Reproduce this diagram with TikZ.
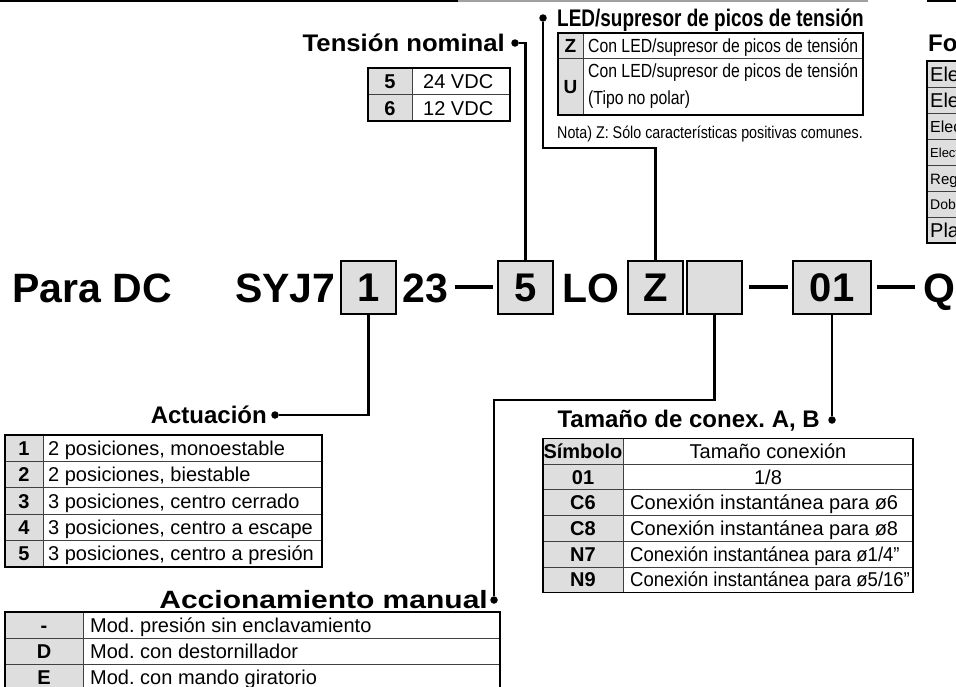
\documentclass[tikz,border=0pt]{standalone}
\usepackage{fontspec}
\setmainfont{Liberation Sans}
\usepackage{graphicx}
\definecolor{cellgray}{HTML}{DEDEDE}
\definecolor{rulegray}{HTML}{A0A0A0}
\newcommand\fs[1]{\fontsize{#1}{#1}\selectfont}
\newcommand\hsc[2]{\scalebox{#1}[1]{#2}}
\frenchspacing
\begin{document}
\begin{tikzpicture}[x=1pt,y=-1pt,
  bigtxt/.style={font=\fs{41}\bfseries, inner sep=0},
  codebox/.style={draw=black, line width=1.7, fill=cellgray, minimum height=53, inner sep=0, font=\fs{40}\bfseries},
  head/.style={font=\fs{24}\bfseries, inner sep=0},
  celltxt/.style={font=\fs{20}, inner sep=0},
  cellbold/.style={font=\fs{20}\bfseries, inner sep=0},
  dot/.style={circle, fill=black, inner sep=0, minimum size=7.5},
  conn/.style={line width=2.3},
  dashbar/.style={line width=3.8},
  outer/.style={draw=black, line width=1.5},
  inner/.style={draw=black!75, line width=0.9},
]
\useasboundingbox (0,0) rectangle (956,686);
\clip (0,0) rectangle (956,686);

% top rule
\draw[line width=1.6] (0,0.8) -- (458,0.8);
\draw[rulegray, line width=1.6] (458,0.8) -- (868,0.8);
\draw[line width=1.6] (927,0.8) -- (956,0.8);

% model code line
\node[bigtxt, anchor=base west] (para) at (12,302) {Para DC};
\node[bigtxt, anchor=base west] (syj) at (235,302) {SYJ7};
\node[codebox, minimum width=55] (b1) at (368.5,287.5) {1};
\node[bigtxt, anchor=base west] (n23) at (402,302) {23};
\draw[dashbar] (455,287) -- (493,287);
\node[codebox, minimum width=55] (b5) at (525.5,287.5) {5};
\node[bigtxt, anchor=base west] (lo) at (562,302) {LO};
\node[codebox, minimum width=55] (bZ) at (655.5,287.5) {Z};
\node[codebox, minimum width=55] (bE) at (714.5,287.5) {};
\draw[dashbar] (749,287) -- (788,287);
\node[codebox, minimum width=78] (b01) at (832,287.5) {01};
\draw[dashbar] (877,287) -- (915,287);
\node[bigtxt, anchor=base west] (q) at (923,302) {Q};

% ---- Tension nominal
\node[dot] (tnDot) at (515,43) {};
\node[head, anchor=base east] (tnHead) at (505,51) {\hsc{1.07}{Tensión nominal}};
\draw[conn] (tnDot) -| (b5.north);
\fill[cellgray] (368,68) rectangle (412,121);
\draw[inner] (412,68) -- (412,121);
\draw[inner] (368,94.5) -- (510,94.5);
\draw[outer] (368,68) rectangle (510,121);
\node[cellbold, anchor=base] (tnA) at (390,88.5) {5};
\node[celltxt, anchor=base west] (tnAt) at (423,88.5) {24 VDC};
\node[cellbold, anchor=base] (tnB) at (390,115) {6};
\node[celltxt, anchor=base west] (tnBt) at (423,115) {12 VDC};

% ---- LED
\node[dot] (ledDot) at (543,18) {};
\node[head, anchor=base west] (ledHead) at (557,26) {\hsc{0.79}{LED/supresor de picos de tensión}};
\coordinate (ledBend) at (655.5,148);
\draw[conn] (ledDot) |- (ledBend) -- (bZ.north);
\fill[cellgray] (558,33) rectangle (583,115);
\draw[inner] (583,33) -- (583,115);
\draw[inner] (558,58) -- (863,58);
\draw[outer] (558,33) rectangle (863,115);
\node[font=\fs{19}\bfseries, inner sep=0, anchor=base] (ledZ) at (570.5,52.5) {Z};
\node[font=\fs{19}, inner sep=0, anchor=base west] (ledZt) at (588,52.5) {\hsc{0.83}{Con LED/supresor de picos de tensión}};
\node[font=\fs{19}\bfseries, inner sep=0, anchor=base] (ledU) at (570.5,93.5) {U};
\node[font=\fs{19}, inner sep=0, anchor=base west] (ledUt) at (588,77) {\hsc{0.83}{Con LED/supresor de picos de tensión}};
\node[font=\fs{19}, inner sep=0, anchor=base west] (ledUt2) at (588,104) {\hsc{0.83}{(Tipo no polar)}};
\node[font=\fs{17}, inner sep=0, anchor=base west] (nota) at (557,138) {\hsc{0.84}{Nota) Z: Sólo características positivas comunes.}};

% ---- Actuacion
\node[dot] (actDot) at (275,415) {};
\node[head, anchor=base east] (actHead) at (267,423) {Actuación};
\draw[conn] (actDot) -| (b1.south);
\fill[cellgray] (5,435) rectangle (43,567);
\draw[inner] (43,435) -- (43,567);
\foreach \yy in {461.4,487.8,514.2,540.6} \draw[inner] (5,\yy) -- (322,\yy);
\draw[outer] (5,435) rectangle (322,567);
\node[cellbold, anchor=base] (a1) at (24,455.2) {1};
\node[celltxt, anchor=base west] (a1t) at (48,455.2) {2 posiciones, monoestable};
\node[cellbold, anchor=base] (a2) at (24,481.6) {2};
\node[celltxt, anchor=base west] (a2t) at (48,481.6) {2 posiciones, biestable};
\node[cellbold, anchor=base] (a3) at (24,508) {3};
\node[celltxt, anchor=base west] (a3t) at (48,508) {3 posiciones, centro cerrado};
\node[cellbold, anchor=base] (a4) at (24,534.4) {4};
\node[celltxt, anchor=base west] (a4t) at (48,534.4) {3 posiciones, centro a escape};
\node[cellbold, anchor=base] (a5) at (24,560.8) {5};
\node[celltxt, anchor=base west] (a5t) at (48,560.8) {3 posiciones, centro a presión};

% ---- Tamano de conexion
\node[dot] (tamDot) at (832,420) {};
\node[head, anchor=base east] (tamHead) at (820,427) {Tamaño de conex. A, B};
\draw[conn] (tamDot) -- (b01.south);
\fill[cellgray] (543,438.5) rectangle (623,592.7);
\draw[inner] (623,438.5) -- (623,592.7);
\foreach \yy in {464.2,489.9,515.6,541.3,567} \draw[inner] (543,\yy) -- (913,\yy);
\draw[outer] (543,438.5) rectangle (913,592.7);
\node[cellbold, anchor=base] (tS) at (583,458.4) {Símbolo};
\node[celltxt, anchor=base] (tSt) at (768,458.4) {Tamaño conexión};
\node[cellbold, anchor=base] (t1) at (583,484.1) {01};
\node[celltxt, anchor=base] (t1t) at (768,484.1) {1/8};
\node[cellbold, anchor=base] (t2) at (583,509.8) {C6};
\node[celltxt, anchor=base west] (t2t) at (630,509.8) {Conexión instantánea para ø6};
\node[cellbold, anchor=base] (t3) at (583,535.5) {C8};
\node[celltxt, anchor=base west] (t3t) at (630,535.5) {Conexión instantánea para ø8};
\node[cellbold, anchor=base] (t4) at (583,561.2) {N7};
\node[celltxt, anchor=base west] (t4t) at (630,561.2) {\hsc{0.925}{Conexión instantánea para ø1/4"}};
\node[cellbold, anchor=base] (t5) at (583,586.9) {N9};
\node[celltxt, anchor=base west] (t5t) at (630,586.9) {\hsc{0.925}{Conexión instantánea para ø5/16"}};

% ---- Accionamiento manual
\node[dot] (accDot) at (494,600) {};
\node[font=\fs{25}\bfseries, inner sep=0, anchor=base east] (accHead) at (488,608) {\hsc{1.2}{Accionamiento manual}};
\coordinate (accBend) at (494,400);
\draw[conn] (accDot) -- (accBend) -| (bE.south);
\fill[cellgray] (5,612) rectangle (83,692);
\draw[inner] (83,612) -- (83,692);
\foreach \yy in {638,664} \draw[inner] (5,\yy) -- (500,\yy);
\draw[outer] (5,612) rectangle (500,692);
\node[cellbold, anchor=base] (m1) at (44,632) {-};
\node[celltxt, anchor=base west] (m1t) at (90,632) {Mod. presión sin enclavamiento};
\node[cellbold, anchor=base] (m2) at (44,658) {D};
\node[celltxt, anchor=base west] (m2t) at (90,658) {Mod. con destornillador};
\node[cellbold, anchor=base] (m3) at (44,684) {E};
\node[celltxt, anchor=base west] (m3t) at (90,684) {Mod. con mando giratorio};

% ---- right partial table
\node[head, anchor=base west] (foHead) at (928,51) {Fo};
\fill[cellgray] (927,61) rectangle (960,243);
\foreach \yy in {87,113,139,165,191,217} \draw[inner] (927,\yy) -- (960,\yy);
\draw[outer] (927,61) rectangle (962,243);
\node[celltxt, anchor=base west] (fo1) at (930,81) {Ele};
\node[celltxt, anchor=base west] (fo2) at (930,107) {Ele};
\node[font=\fs{16}, inner sep=0, anchor=base west] (fo3) at (930,132) {Elec};
\node[font=\fs{13}, inner sep=0, anchor=base west] (fo4) at (930,157) {Elect};
\node[font=\fs{15}, inner sep=0, anchor=base west] (fo5) at (930,184) {Regu};
\node[font=\fs{14}, inner sep=0, anchor=base west] (fo6) at (930,209) {Dobl};
\node[celltxt, anchor=base west] (fo7) at (930,237) {Pla};
\end{tikzpicture}
\end{document}
